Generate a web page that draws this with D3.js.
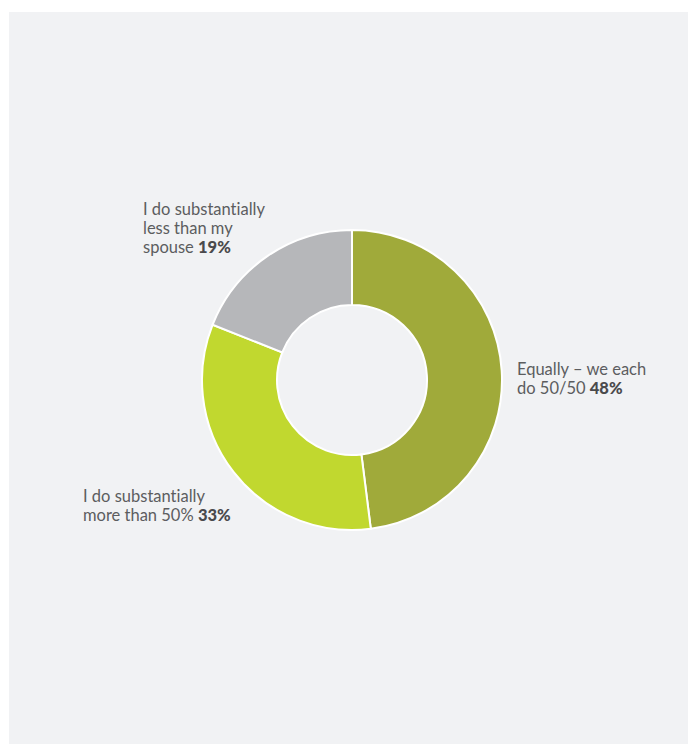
<!DOCTYPE html>
<html>
<head>
<meta charset="utf-8">
<script src="https://cdn.jsdelivr.net/npm/d3@7"></script>
<style>
  html, body { margin: 0; padding: 0; background: #ffffff; }
  svg { display: block; }
  text { font-family: Lato, "Open Sans", sans-serif; font-variant-ligatures: none; font-feature-settings: "liga" 0; }
</style>
</head>
<body>
<svg id="chart" width="688" height="744"></svg>
<script>
const categories = ["Equally – we each do 50/50", "I do substantially more than 50%", "I do substantially less than my spouse"];
const values = [48, 33, 19];
const colors = ["#a0aa3a", "#c1d82f", "#b6b7ba"];
const labelLines = [
  ["Equally – we each", "do 50/50"],
  ["I do substantially", "more than 50%"],
  ["I do substantially", "less than my", "spouse"]
];
const valueLabels = ["48%", "33%", "19%"];

const svg = d3.select("#chart");
svg.append("rect").attr("x", 9).attr("y", 12).attr("width", 679).attr("height", 732).attr("fill", "#f1f2f4");

const cx = 352, cy = 380, outerR = 150, innerR = 75;
const g = svg.append("g").attr("transform", `translate(${cx},${cy})`);

const pie = d3.pie().sort(null).value(d => d);
const arcs = pie(values);
const arc = d3.arc().innerRadius(innerR).outerRadius(outerR);

g.selectAll("path").data(arcs).join("path")
  .attr("d", arc)
  .attr("fill", (d, i) => colors[i])
  .attr("stroke", "#ffffff")
  .attr("stroke-width", 2);

const labelPos = [
  {x: 517, y: 375, lh: 18.5},
  {x: 83, y: 502, lh: 19},
  {x: 143, y: 215, lh: 19}
];

labelLines.forEach((lines, i) => {
  const t = svg.append("text")
    .attr("x", labelPos[i].x)
    .attr("y", labelPos[i].y)
    .attr("font-size", 16.5)
    .attr("fill", "#5c5d5f");
  lines.forEach((line, j) => {
    t.append("tspan")
      .attr("x", labelPos[i].x)
      .attr("y", labelPos[i].y + j * labelPos[i].lh)
      .text(line);
    if (j === lines.length - 1) {
      t.append("tspan").text(" ");
      t.append("tspan").attr("font-weight", "900").attr("fill", "#4a4a4c").text(valueLabels[i]);
    }
  });
});
</script>
</body>
</html>
